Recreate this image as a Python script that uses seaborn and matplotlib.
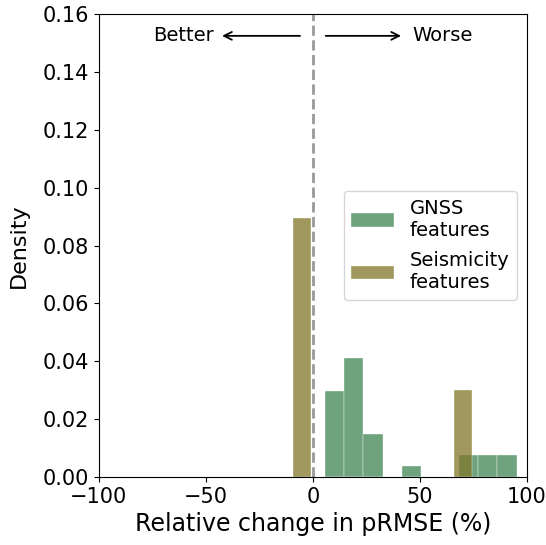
import matplotlib
matplotlib.use("Agg")
import matplotlib.pyplot as plt
import seaborn as sns
import pandas as pd
import numpy as np

# histogram data: bin centres and counts, 10 bins each
gnss_range = (5.7, 95.2)
gnss_centers = [10.2, 19.1, 28.1, 37.0, 46.0, 54.9, 63.9, 72.8, 81.8, 90.7]
gnss_counts = [8, 11, 4, 0, 1, 0, 0, 2, 2, 2]

seis_range = (-9.35, 74.3)
seis_centers = [-5.2, 69.9]
seis_counts = [3, 1]

gnss_color = "#3e8452"
seis_color = "#80762a"

df_gnss = pd.DataFrame({"change": gnss_centers, "n": gnss_counts})
df_seis = pd.DataFrame({"change": seis_centers, "n": seis_counts})

fig = plt.figure(figsize=(5.46, 5.45), dpi=100)
ax = fig.add_axes([0.181, 0.125, 0.784, 0.849])

sns.histplot(data=df_gnss, x="change", weights="n", bins=10, binrange=gnss_range,
             stat="density", color=gnss_color, alpha=0.75, edgecolor="white",
             linewidth=0.25, label="GNSS\nfeatures", ax=ax)
sns.histplot(data=df_seis, x="change", weights="n", bins=10, binrange=seis_range,
             stat="density", color=seis_color, alpha=0.75, edgecolor="white",
             linewidth=0.25, label="Seismicity\nfeatures", ax=ax)

ax.axvline(0, color="grey", ls="--", lw=2, alpha=0.8)

# better / worse arrows
y_arr = 0.1525
ax.annotate("Better", xy=(-6, y_arr), xytext=(-60.5, y_arr), ha="center", va="center",
            fontsize=14, arrowprops=dict(arrowstyle="<-", color="black", lw=1.3,
                                         shrinkA=4, shrinkB=0))
ax.annotate("Worse", xy=(6, y_arr), xytext=(60.5, y_arr), ha="center", va="center",
            fontsize=14, arrowprops=dict(arrowstyle="<-", color="black", lw=1.3,
                                         shrinkA=6, shrinkB=0))

ax.set_xlim(-100, 100)
ax.set_ylim(0, 0.16)
ax.set_xticks([-100, -50, 0, 50, 100])
ax.set_yticks(np.arange(0, 0.161, 0.02))
ax.tick_params(labelsize=15)
ax.set_xlabel("Relative change in pRMSE (%)", fontsize=17)
ax.set_ylabel("Density", fontsize=16, labelpad=10)

ax.legend(loc="center right", fontsize=14, handlelength=2.2, labelspacing=0.6)

fig.savefig("out.png", dpi=100)
